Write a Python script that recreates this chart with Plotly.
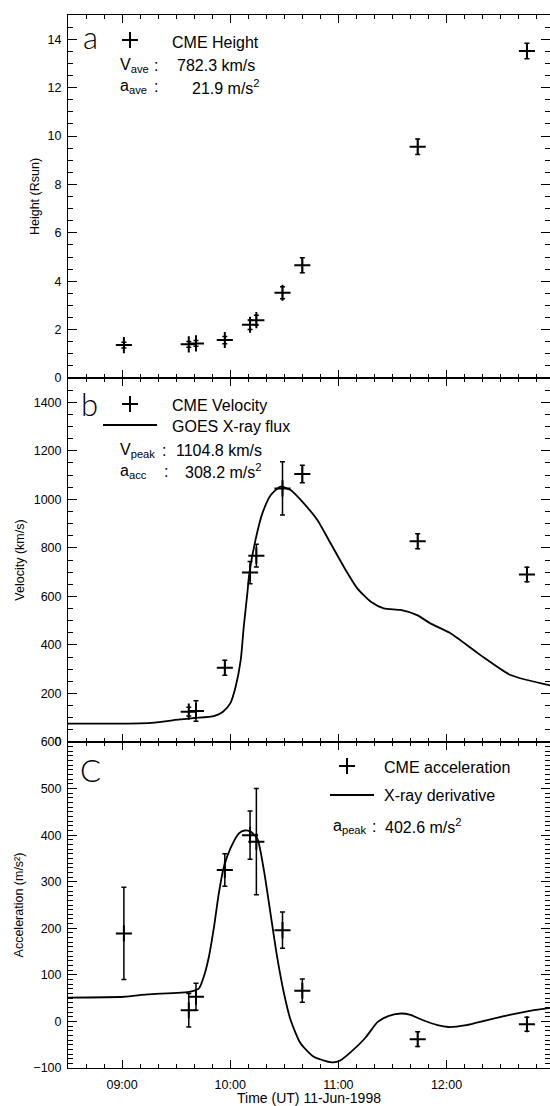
import plotly.graph_objects as go

DAY = "1998-06-11 "

# ---------------- data ----------------
# Panel a: CME height (Rsun)
h_time = ["09:01", "09:37", "09:41", "09:57", "10:11", "10:14:30", "10:29", "10:40", "11:44", "12:44:36"]
h_val = [1.36, 1.39, 1.43, 1.57, 2.20, 2.39, 3.52, 4.66, 9.56, 13.51]
h_err = [0.12, 0.12, 0.12, 0.15, 0.2, 0.2, 0.25, 0.31, 0.32, 0.32]

# Panel b: CME velocity (km/s)
v_time = ["09:37", "09:41", "09:57", "10:11", "10:14:30", "10:29", "10:40", "11:44", "12:44:36"]
v_val = [125, 128, 306, 698, 768, 1045, 1104.8, 827, 690]
v_err = [18, 42, 31, 46, 47, 110, 36, 31, 30]

# GOES X-ray flux (scaled to velocity units)
goes_time = ["08:30", "08:50", "09:10", "09:18", "09:25", "09:32", "09:40", "09:51", "09:56",
             "10:00", "10:03", "10:05:50", "10:07:30", "10:09:30", "10:10:30", "10:14",
             "10:17:50", "10:22:30", "10:28", "10:33:30", "10:40:50", "10:48:20", "10:55:40",
             "11:03", "11:10:30", "11:18", "11:25:10", "11:34:30", "11:43:40", "11:51",
             "12:02", "12:18:50", "12:35:30", "12:57:30"]
goes_val = [76, 76, 77, 80, 86, 93, 99, 107, 125,
            159, 228, 338, 475, 613, 690, 832,
            942, 1018, 1052, 1038, 983, 915, 819,
            722, 633, 578, 551, 544, 523, 489,
            449, 358, 276, 233]

# Panel c: CME acceleration (m/s^2)
a_time = ["09:01", "09:37", "09:41", "09:57", "10:11", "10:14:30", "10:29", "10:40", "11:44", "12:44:36"]
a_val = [189, 24, 53, 325, 400, 386, 196, 66, -38, -6]
a_err = [99, 36, 29, 35, 52, 114, 39, 25, 16, 15]

# X-ray derivative (scaled to acceleration units)
der_time = ["08:30", "09:01", "09:14", "09:38", "09:42:40", "09:45:20", "09:48:10", "09:51",
            "09:53:40", "09:56:30", "10:00:10", "10:04:50", "10:08:00", "10:11:00", "10:15",
            "10:18:40", "10:22:20", "10:26", "10:29:50", "10:33:30", "10:39", "10:46:20",
            "10:53:00", "10:57", "11:01", "11:07:10", "11:15", "11:21:50", "11:28", "11:35",
            "11:40", "11:46:40", "11:55", "12:01", "12:11", "12:22:40", "12:35", "12:47", "12:57:30"]
der_val = [51, 53, 58, 64, 71, 96, 139, 203,
           275, 332, 372, 404, 410, 408, 393,
           325, 232, 139, 60, 3, -47, -76,
           -85, -88, -84, -65, -35, -1, 12, 17,
           14, 3, -8, -12, -8, 3, 14, 23, 29]

X_RANGE = ["08:30", "12:57:24"]
X_TICK0 = "09:00"

# ---------------- layout geometry (pixels) ----------------
W, H = 550, 1106
ML, MR, MT, MB = 68, 0, 15, 38
PW, PH = W - ML - MR, H - MT - MB
Y_AB, Y_BC = 378, 742          # panel boundaries in pixels


def fy(py):
    return (H - MB - py) / PH


def fx(px):
    return (px - ML) / PW


def t(lst):
    return [DAY + s for s in lst]


FONT = "Liberation Sans"
BLACK = "black"

fig = go.Figure()

mk = dict(symbol="cross-thin", size=11.5, color=BLACK, line=dict(width=2, color=BLACK))


def err(arr):
    return dict(type="data", array=arr, visible=True, width=2.5, thickness=1.5, color=BLACK)


fig.add_trace(go.Scatter(x=t(h_time), y=h_val, mode="markers", marker=mk, error_y=err(h_err),
                         xaxis="x", yaxis="y", name="CME Height", showlegend=False))
fig.add_trace(go.Scatter(x=t(goes_time), y=goes_val, mode="lines", line=dict(color=BLACK, width=1.8, shape="spline", smoothing=0.6),
                         xaxis="x2", yaxis="y2", name="GOES X-ray flux", showlegend=False))
fig.add_trace(go.Scatter(x=t(v_time), y=v_val, mode="markers", marker=mk, error_y=err(v_err),
                         xaxis="x2", yaxis="y2", name="CME Velocity", showlegend=False))
fig.add_trace(go.Scatter(x=t(der_time), y=der_val, mode="lines", line=dict(color=BLACK, width=1.8, shape="spline", smoothing=0.6),
                         xaxis="x3", yaxis="y3", name="X-ray derivative", showlegend=False))
fig.add_trace(go.Scatter(x=t(a_time), y=a_val, mode="markers", marker=mk, error_y=err(a_err),
                         xaxis="x3", yaxis="y3", name="CME acceleration", showlegend=False))

tickfont = dict(family=FONT, size=12.5, color=BLACK)

xbase = dict(type="date", range=t(X_RANGE), tick0=DAY + X_TICK0, dtick=3600000, tickformat="%H:%M",
             ticks="inside", ticklen=8, tickwidth=1, tickcolor=BLACK,
             minor=dict(dtick=600000, ticks="inside", ticklen=4, tickwidth=1, tickcolor=BLACK),
             showline=True, linecolor=BLACK, linewidth=1, mirror="ticks", showgrid=False,
             zeroline=False, tickfont=tickfont)


def ybase(rng, dtick, mdtick, title, dom, standoff):
    return dict(range=rng, dtick=dtick, tick0=0, ticks="inside", ticklen=9, tickwidth=1, tickcolor=BLACK,
                minor=dict(dtick=mdtick, ticks="inside", ticklen=5, tickwidth=1, tickcolor=BLACK),
                showline=True, linecolor=BLACK, linewidth=1, mirror="ticks", showgrid=False,
                zeroline=False, tickfont=tickfont, domain=dom, ticklabelstandoff=3,
                title=dict(text=title, font=dict(family=FONT, size=12.5, color=BLACK), standoff=standoff))


fig.update_layout(
    width=W, height=H, margin=dict(l=ML, r=MR, t=MT, b=MB),
    paper_bgcolor="white", plot_bgcolor="white", showlegend=False,
    xaxis=dict(xbase, anchor="y", showticklabels=False),
    xaxis2=dict(xbase, anchor="y2", matches="x", showticklabels=False),
    xaxis3=dict(xbase, anchor="y3", matches="x", ticklabelstandoff=5,
                title=dict(text="Time (UT) 11-Jun-1998", font=dict(family=FONT, size=14, color=BLACK), standoff=2)),
    yaxis=ybase([0, 15], 2, 0.5, "Height (Rsun)", [fy(Y_AB), 1], 5),
    yaxis2=ybase([0, 1500], 200, 50, "Velocity (km/s)", [fy(Y_BC), fy(Y_AB)], 6),
    yaxis3=ybase([-100, 600], 100, 10, "Acceleration (m/s²)", [0, fy(Y_BC)], 6),
)

# ---------------- in-panel legends / labels ----------------
txt = dict(family=FONT, size=16, color=BLACK)
letter_font = dict(family="Lato", size=31, color=BLACK, weight=300)


def note(text, px, py, font=txt, xanchor="left"):
    fig.add_annotation(text=text, x=fx(px), y=fy(py), xref="paper", yref="paper",
                       xanchor=xanchor, yanchor="middle", showarrow=False, font=font)


def plus(px, py, arm=8):
    for x0, y0, x1, y1 in [(px - arm, py, px + arm, py), (px, py - arm, px, py + arm)]:
        fig.add_shape(type="line", xref="paper", yref="paper", x0=fx(x0), y0=fy(y0), x1=fx(x1), y1=fy(y1),
                      line=dict(color=BLACK, width=2))


def hline(px0, px1, py):
    fig.add_shape(type="line", xref="paper", yref="paper", x0=fx(px0), y0=fy(py), x1=fx(px1), y1=fy(py),
                  line=dict(color=BLACK, width=1.8))


# panel a
note("a", 90, 37, letter_font, "center")
plus(130, 40)
note("CME Height", 170, 42)
note("V<sub>ave</sub>", 118, 66)
note(":", 152, 66)
note("782.3 km/s", 175, 66)
note("a<sub>ave</sub>", 118, 87)
note(":", 152, 87)
note("21.9 m/s<sup>2</sup>", 190, 87)

# panel b
note("b", 89, 404, letter_font, "center")
plus(130, 404)
note("CME Velocity", 170, 405)
hline(103, 157, 425)
note("GOES X-ray flux", 170, 426)
note("V<sub>peak</sub>", 118, 450)
note(":", 160, 450)
note("1104.8 km/s", 174, 450)
note("a<sub>acc</sub>", 118, 471)
note(":", 162, 471)
note("308.2 m/s<sup>2</sup>", 183, 471)

# panel c
note("C", 90, 770, letter_font, "center")
plus(347, 766)
note("CME acceleration", 382, 767)
hline(330, 374, 795)
note("X-ray derivative", 382, 795)
note("a<sub>peak</sub>", 331, 826)
note(":", 370, 826)
note("402.6 m/s<sup>2</sup>", 383, 826)

fig.write_html("out.html")
